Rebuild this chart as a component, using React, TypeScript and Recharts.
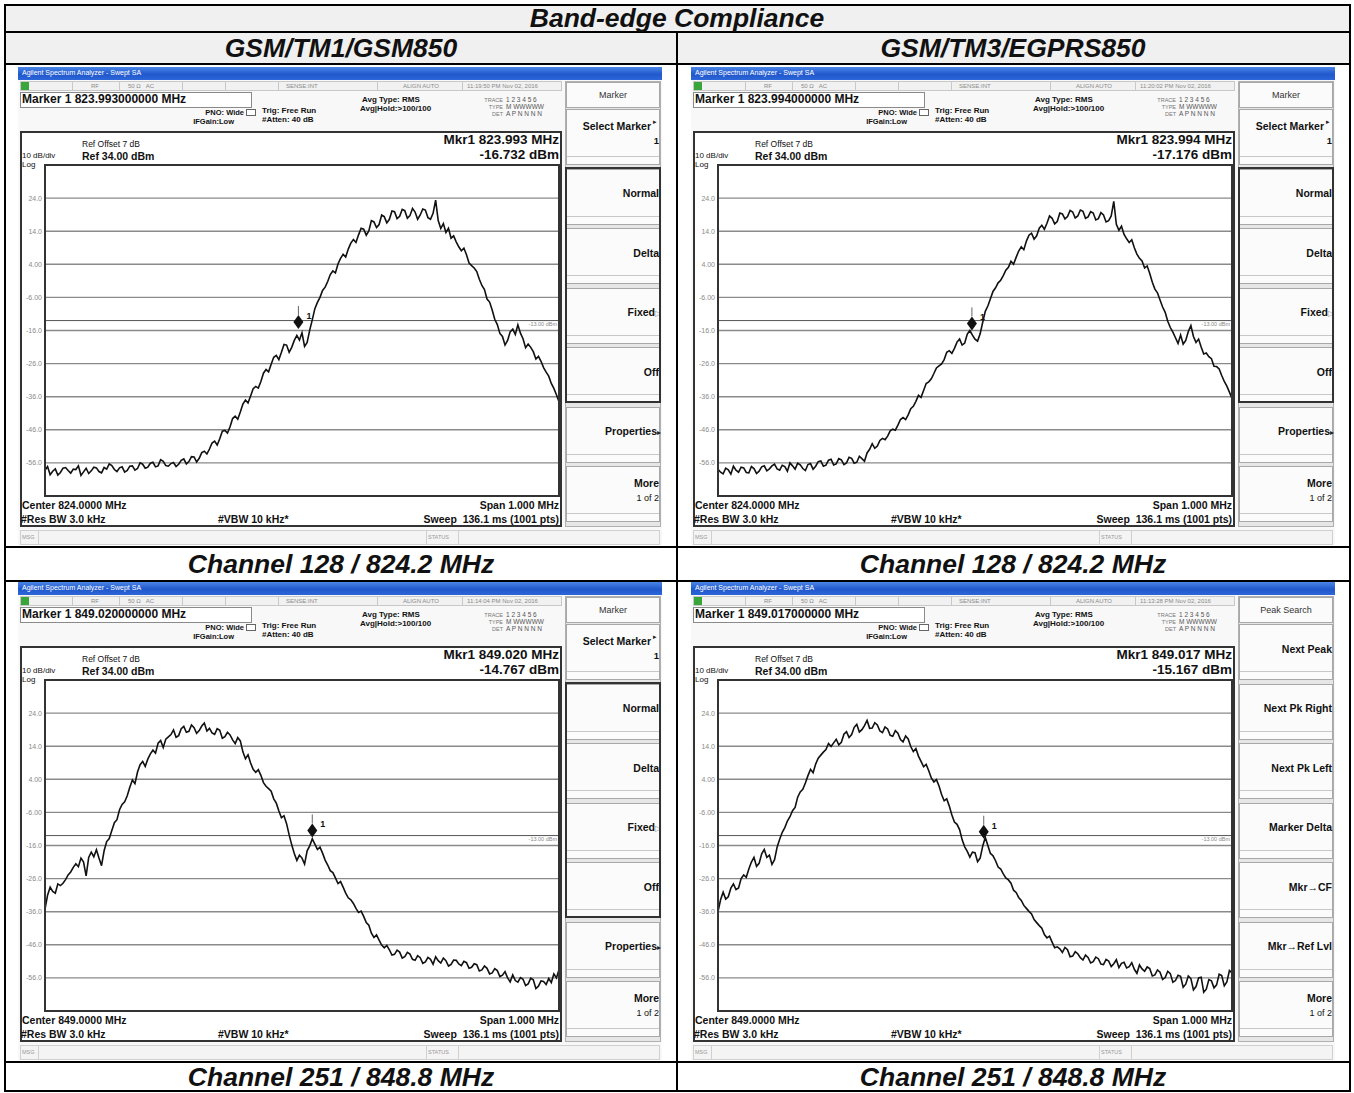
import React from "react";
import {
  CartesianGrid,
  Line,
  LineChart,
  ReferenceDot,
  ReferenceLine,
  XAxis,
  YAxis,
} from "recharts";

// trace levels in dBm, one point every 5 kHz across the 1 MHz span (201 pts)
const tm1Ch128 = [
  -58.2, -57.1, -59.6, -58.5, -57.8, -59.7, -58.9, -57.6, -57.4, -58.3, -59.1, -57.9, -58.0, -56.9, -59.8, -58.7, -57.6, -59.2, -58.4, -57.3,
  -57.5, -58.6, -59.0, -57.4, -57.9, -56.3, -56.8, -58.0, -58.6, -57.5, -57.2, -58.8, -58.3, -57.0, -56.9, -58.2, -57.7, -56.0, -56.4, -57.6,
  -57.3, -56.1, -55.8, -57.2, -56.9, -55.0, -55.5, -56.8, -57.0, -56.2, -55.9, -57.1, -56.4, -55.2, -54.8, -56.3, -55.6, -54.1, -54.2, -55.7,
  -54.6, -52.9, -52.5, -53.3, -51.8, -50.0, -49.4, -50.6, -48.7, -46.4, -46.2, -47.0, -45.1, -42.6, -41.9, -42.8, -40.6, -38.2, -37.0, -37.9,
  -35.8, -33.6, -32.9, -33.4, -31.4, -28.9, -27.8, -28.5, -26.2, -24.1, -23.5, -24.8, -22.6, -20.2, -20.4, -22.6, -21.1, -19.0, -17.5, -18.9,
  -16.7, -20.8, -19.6, -15.9, -12.8, -9.4, -7.5, -6.0, -3.9, -2.9, -1.2, 0.9, 2.0, 1.4, 4.1, 5.8, 7.0, 6.2, 8.6, 10.4,
  11.5, 10.6, 12.9, 14.9, 14.6, 12.8, 14.1, 17.2, 16.8, 15.1, 16.0, 18.9, 18.4, 16.5, 17.6, 20.1, 19.9, 17.8, 18.5, 20.6,
  20.2, 17.9, 18.7, 20.9, 19.8, 17.6, 18.9, 20.7, 20.4, 18.1, 17.6, 19.4, 23.4, 17.2, 14.8, 16.3, 13.6, 14.9, 11.9, 12.6,
  10.8, 9.3, 8.1, 8.9, 6.9, 4.4, 3.6, 2.9, 1.8, -0.5, -2.4, -3.6, -6.5, -7.4, -9.8, -12.6, -14.2, -16.9, -17.8, -20.4,
  -19.0, -16.4, -15.6, -17.2, -14.3, -16.8, -18.5, -21.2, -20.1, -21.1, -22.4, -24.6, -23.8, -25.3, -27.2, -28.6, -29.8, -32.0, -33.5, -35.4, -37.5,
];

const tm3Ch128 = [
  -57.9, -58.8, -59.3, -57.6, -58.1, -59.4, -57.0, -58.2, -58.8, -57.3, -57.5, -58.9, -59.0, -57.1, -57.7, -59.2, -58.5, -57.2, -56.9, -58.4,
  -57.8, -56.9, -56.4, -57.8, -58.2, -56.7, -57.1, -58.5, -56.0, -56.9, -57.9, -56.1, -56.6, -57.7, -58.3, -56.5, -56.2, -57.9, -57.0, -55.6,
  -55.4, -57.0, -56.7, -55.2, -54.9, -56.6, -56.3, -54.7, -55.1, -56.5, -56.0, -54.3, -54.6, -56.1, -55.8, -54.0, -54.7, -55.5, -53.0, -51.9,
  -50.2, -51.6, -50.9, -49.2, -48.6, -49.0, -47.9, -46.3, -45.8, -46.1, -44.6, -42.9, -42.3, -42.9, -41.5, -39.6, -38.9, -37.4, -35.6, -36.2,
  -34.1, -32.0, -31.5, -30.6, -29.0, -27.3, -26.7, -26.1, -24.8, -22.6, -22.1, -22.9, -21.4, -19.5, -18.6, -20.4, -19.8, -17.1, -16.0, -17.4,
  -18.6, -19.2, -17.0, -13.5, -10.2, -8.6, -6.4, -4.2, -3.1, -1.6, -0.8, 0.6, 2.2, 3.1, 4.9, 4.0, 6.1, 8.0, 9.3, 8.4,
  11.0, 12.8, 13.4, 11.6, 12.6, 14.9, 15.8, 14.6, 16.4, 18.6, 17.9, 16.2, 16.9, 19.5, 19.2, 17.7, 18.4, 20.3, 19.8, 18.0,
  18.6, 20.4, 20.0, 17.9, 18.3, 19.9, 19.5, 17.4, 17.8, 19.6, 18.9, 16.8, 17.2, 18.6, 23.0, 16.1, 14.3, 15.5, 13.0, 11.7,
  10.6, 11.4, 9.0, 7.1, 5.8, 5.0, 2.9, 3.5, 1.2, -1.4, -3.5, -4.6, -6.8, -8.9, -10.5, -13.2, -15.1, -16.5, -18.2, -19.9,
  -17.4, -20.1, -19.0, -16.3, -14.5, -17.8, -19.6, -18.6, -21.0, -23.1, -22.8, -23.9, -24.5, -26.8, -26.9, -27.6, -29.6, -31.4, -32.8, -34.6, -36.5,
];

const tm1Ch251 = [
  -35.2, -31.0, -28.6, -29.9, -30.4, -27.6, -28.1, -27.4, -26.3, -24.9, -24.0, -22.6, -21.5, -22.4, -19.8, -21.0, -25.2, -19.6, -18.0, -19.4,
  -17.3, -19.8, -22.1, -17.6, -14.8, -13.9, -11.5, -9.1, -8.2, -5.2, -3.6, -2.8, -1.0, 1.6, 3.8, 2.7, 6.2, 8.4, 9.4, 7.9,
  10.1, 11.7, 12.8, 11.9, 14.9, 15.7, 13.6, 16.1, 16.8, 17.5, 18.9, 16.7, 17.2, 19.3, 20.0, 18.2, 18.5, 20.4, 19.6, 17.9,
  18.7, 20.1, 21.0, 18.6, 19.4, 18.0, 17.6, 19.3, 18.8, 16.4, 16.9, 18.2, 17.4, 15.9, 14.8, 16.6, 15.6, 12.3, 10.2, 11.4,
  8.9, 7.0, 6.1, 6.9, 5.2, 3.0, 1.9, 1.2, 0.4, -1.9, -3.2, -5.6, -7.6, -7.0, -9.4, -12.8, -15.8, -18.4, -20.5, -18.9,
  -19.8, -21.6, -17.6, -16.1, -14.0, -15.6, -17.2, -16.5, -18.3, -20.4, -21.9, -23.6, -24.2, -25.8, -27.5, -26.9, -28.6, -30.4, -31.8, -32.4,
  -33.5, -35.0, -36.2, -35.8, -37.4, -39.3, -40.1, -42.5, -43.8, -43.0, -44.6, -46.1, -46.9, -46.2, -47.5, -49.1, -48.9, -47.6, -48.2, -50.0,
  -49.6, -48.3, -48.8, -50.4, -50.7, -49.3, -49.9, -51.6, -51.2, -49.8, -50.4, -51.9, -49.6, -50.8, -51.5, -50.0, -50.8, -52.4, -51.9, -50.6,
  -50.7, -51.8, -52.3, -51.0, -51.4, -53.1, -52.8, -51.7, -52.0, -53.9, -53.6, -52.4, -53.1, -54.8, -54.5, -53.2, -53.8, -55.6, -55.2, -54.1,
  -56.0, -57.2, -55.1, -56.8, -57.3, -55.9, -56.4, -58.3, -57.8, -56.1, -56.6, -59.2, -58.5, -56.9, -57.1, -58.0, -56.2, -57.4, -54.8, -56.0, -53.5,
];

const tm3Ch251 = [
  -36.0, -32.4, -30.1, -32.2, -31.5, -28.9, -27.6, -29.3, -28.8, -26.0, -24.9, -25.6, -23.1, -21.0, -19.6, -22.3, -21.4, -18.5, -17.2, -19.6,
  -18.9, -21.7, -20.3, -16.5, -14.1, -12.0, -10.6, -8.6, -7.3, -5.5, -4.5, -1.4, 0.2, 1.0, 2.9, 5.1, 7.0, 6.0, 8.6, 10.4,
  11.3, 12.2, 13.0, 14.8, 13.9, 15.0, 16.1, 14.4, 15.2, 17.6, 18.4, 16.6, 17.5, 19.7, 20.6, 18.3, 19.0, 20.2, 21.8, 19.4,
  19.5, 21.1, 20.4, 18.6, 18.1, 19.8, 19.2, 17.3, 17.0, 18.7, 17.9, 16.0, 15.3, 17.1, 16.2, 13.9, 12.4, 13.3, 11.0, 9.4,
  7.8, 8.5, 6.6, 4.4, 3.2, 3.9, 2.0, -0.6, -2.5, -1.9, -4.1, -6.8, -8.9, -9.6, -11.2, -14.3, -16.4, -17.8, -19.5, -18.0,
  -18.2, -20.9, -19.8, -16.2, -13.5, -16.0, -18.4, -19.1, -20.6, -22.5, -23.1, -24.6, -25.8, -26.4, -27.4, -29.5, -30.2, -31.7, -32.6, -34.1,
  -35.0, -35.9, -36.7, -38.4, -39.3, -40.2, -41.0, -42.9, -43.9, -43.4, -45.2, -46.9, -46.6, -47.2, -48.3, -46.8, -47.5, -49.6, -49.4, -48.1,
  -48.7, -49.9, -50.6, -49.1, -49.8, -51.5, -51.1, -49.7, -50.2, -51.8, -52.0, -50.4, -50.9, -52.6, -51.7, -50.5, -52.9, -51.6, -51.3, -53.0,
  -52.6, -51.4, -53.4, -54.6, -52.1, -53.3, -54.0, -52.7, -53.2, -55.4, -55.1, -53.6, -54.3, -56.5, -55.9, -54.0, -54.7, -57.3, -56.8, -55.2,
  -55.5, -58.8, -57.9, -55.4, -56.2, -59.6, -58.6, -56.0, -55.8, -60.3, -59.4, -56.5, -56.9, -59.0, -58.1, -54.9, -55.3, -58.4, -57.2, -53.8, -54.5,
];

const yTicks = [-66, -56, -46, -36, -26, -16, -6, 4, 14, 24, 34];
const yTickLabels = ["", "-56.0", "-46.0", "-36.0", "-26.0", "-16.0", "-6.00", "4.00", "14.0", "24.0", ""];
const divOffsets = [-0.5, -0.4, -0.3, -0.2, -0.1, 0, 0.1, 0.2, 0.3, 0.4, 0.5];
const limitDbm = -13;

const markerKeys = [
  { label: "Select Marker", sub: "1", mark: "▸" },
  { label: "Normal" },
  { label: "Delta" },
  { label: "Fixed", mark: "▷" },
  { label: "Off" },
  { label: "Properties", mark: "▸" },
  { label: "More", sub: "1 of 2" },
];
const peakKeys = [
  { label: "Next Peak" },
  { label: "Next Pk Right" },
  { label: "Next Pk Left" },
  { label: "Marker Delta" },
  { label: "Mkr→CF" },
  { label: "Mkr→Ref Lvl" },
  { label: "More", sub: "1 of 2" },
];

const panels = [
  { ox: 18, oy: 67, center: 824, levels: tm1Ch128, mkF: 823.993, mkL: -16.732, time: "11:19:50 PM Nov 02, 2016", menu: "Marker", keys: markerKeys },
  { ox: 691, oy: 67, center: 824, levels: tm3Ch128, mkF: 823.994, mkL: -17.176, time: "11:20:02 PM Nov 02, 2016", menu: "Marker", keys: markerKeys },
  { ox: 18, oy: 582, center: 849, levels: tm1Ch251, mkF: 849.02, mkL: -14.767, time: "11:14:04 PM Nov 02, 2016", menu: "Marker", keys: markerKeys },
  { ox: 691, oy: 582, center: 849, levels: tm3Ch251, mkF: 849.017, mkL: -15.167, time: "11:13:28 PM Nov 02, 2016", menu: "Peak Search", keys: peakKeys },
];

const FONT = '"Liberation Sans", Arial, sans-serif';

function T({ x, y, s, b, c = "#111", a = "l", it, children }: any) {
  const w = 420;
  const h = s * 1.15;
  const left = a === "l" ? x : a === "r" ? x - w : x - w / 2;
  return (
    <div
      style={{
        position: "absolute",
        left,
        top: y - h / 2,
        width: w,
        height: h,
        lineHeight: `${h}px`,
        fontSize: s,
        fontWeight: b ? 700 : 400,
        fontStyle: it ? "italic" : "normal",
        color: c,
        textAlign: a === "l" ? "left" : a === "r" ? "right" : "center",
        whiteSpace: "nowrap",
        fontFamily: FONT,
      }}
    >
      {children}
    </div>
  );
}

function Box({ x, y, w, h, bg, border }: any) {
  return (
    <div
      style={{
        position: "absolute",
        left: x,
        top: y,
        width: w,
        height: h,
        background: bg,
        border,
        boxSizing: "border-box",
      }}
    />
  );
}

const MarkerShape = (props: any) => {
  const { cx, cy } = props;
  return (
    <g>
      <line x1={cx} x2={cx} y1={cy - 27} y2={cy - 18} stroke="#666" strokeWidth={1} />
      <polygon
        points={`${cx},${cy - 18} ${cx + 5},${cy - 11} ${cx},${cy - 4} ${cx - 5},${cy - 11}`}
        fill="#111"
      />
      <text x={cx + 8} y={cy - 14} fontSize={9} fontWeight="bold" fill="#111" fontFamily={FONT}>
        1
      </text>
    </g>
  );
};

function Screen({ p }: any) {
  const lo = p.center - 0.5;
  const hi = p.center + 0.5;
  const data = p.levels.map((dbm: number, i: number) => ({ f: +(lo + i * 0.005).toFixed(4), dbm }));
  const xTicks = divOffsets.map((d) => +(p.center + d).toFixed(1));
  const statusSeps = [54, 101, 164, 207, 260, 359, 444];
  const keyTop = (k: number) => 42 + 59.5 * k;

  return (
    <div style={{ position: "absolute", left: p.ox, top: p.oy, width: 644, height: 478, background: "#f8f8f8" }}>
      {/* title bar */}
      <div
        style={{
          position: "absolute",
          left: 0,
          top: 0,
          width: 644,
          height: 13,
          background: "linear-gradient(#4a86e8, #2158cc 55%, #2c66d8)",
        }}
      />
      <T x={4} y={6.5} s={7} c="#fff">Agilent Spectrum Analyzer - Swept SA</T>

      {/* status row */}
      <Box x={2} y={14} w={542} h={10} bg="#f1f1f1" border="1px solid #c8c8c8" />
      <Box x={3} y={15} w={8} h={8} bg="#3aa53a" />
      {statusSeps.map((s) => (
        <Box key={s} x={s} y={14} w={1} h={10} bg="#c8c8c8" />
      ))}
      <T x={73} y={19} s={6} c="#8a8a8a">RF</T>
      <T x={110} y={19} s={6} c="#8a8a8a">50 Ω&nbsp;&nbsp;&nbsp;AC</T>
      <T x={268} y={19} s={6} c="#8a8a8a">SENSE:INT</T>
      <T x={385} y={19} s={6} c="#8a8a8a">ALIGN AUTO</T>
      <T x={449} y={19} s={6} c="#8a8a8a">{p.time}</T>

      {/* marker line */}
      <Box x={2} y={25} w={232} h={16} bg="#fff" border="1px solid #8a8a8a" />
      <T x={4} y={33} s={12} b>{`Marker 1 ${p.mkF.toFixed(9)} MHz`}</T>
      <T x={226} y={46} s={7.5} b a="r">PNO: Wide</T>
      <Box x={228} y={42} w={10} h={7} bg="#fff" border="1px solid #666" />
      <T x={216} y={55} s={7.5} b a="r">IFGain:Low</T>
      <T x={244} y={44} s={8} b>Trig: Free Run</T>
      <T x={244} y={53} s={8} b>#Atten: 40 dB</T>
      <T x={344} y={33} s={8} b>Avg Type: RMS</T>
      <T x={342} y={42} s={8} b>Avg|Hold:&gt;100/100</T>
      <T x={485} y={33} s={5.5} c="#777" a="r">TRACE</T>
      <T x={488} y={33} s={6.5} c="#555">1 2 3 4 5 6</T>
      <T x={485} y={40} s={5.5} c="#777" a="r">TYPE</T>
      <T x={488} y={40} s={6.5} c="#555">M WWWWW</T>
      <T x={485} y={47} s={5.5} c="#777" a="r">DET</T>
      <T x={488} y={47} s={6.5} c="#555">A P N N N N</T>

      {/* measurement frame */}
      <Box x={2} y={64} w={542} h={396} bg="#fff" border="2px solid #333" />
      <T x={64} y={78} s={8.5}>Ref Offset 7 dB</T>
      <T x={64} y={89} s={10.5} b>Ref 34.00 dBm</T>
      <T x={4} y={88.5} s={8}>10 dB/div</T>
      <T x={4} y={97.5} s={8}>Log</T>
      <T x={541} y={73} s={13.5} b a="r">{`Mkr1 ${p.mkF.toFixed(3)} MHz`}</T>
      <T x={541} y={87.5} s={13.5} b a="r">{`${p.mkL.toFixed(3)} dBm`}</T>

      <div style={{ position: "absolute", left: 1, top: 98 }}>
        <LineChart width={540} height={331} data={data} margin={{ top: 0, right: 0, bottom: 0, left: 0 }}>
          <CartesianGrid stroke="#8a8a8a" strokeWidth={1.4} />
          <XAxis
            dataKey="f"
            type="number"
            domain={[lo, hi]}
            ticks={xTicks}
            tick={false}
            axisLine={false}
            tickLine={false}
            height={0}
            allowDataOverflow
          />
          <YAxis
            type="number"
            domain={[-66, 34]}
            ticks={yTicks}
            width={26}
            tickSize={0}
            tickMargin={3}
            axisLine={false}
            tickLine={false}
            tick={{ fontSize: 7, fill: "#8a8a8a", fontFamily: FONT }}
            tickFormatter={(v: number) => yTickLabels[yTicks.indexOf(v)] ?? ""}
            allowDataOverflow
          />
          <ReferenceLine
            y={limitDbm}
            stroke="#555"
            strokeWidth={1}
            label={{ value: "-13.00 dBm", position: "insideTopRight", fontSize: 5.5, fill: "#888", offset: 2 }}
          />
          <Line
            dataKey="dbm"
            type="linear"
            stroke="#111"
            strokeWidth={1.6}
            dot={false}
            isAnimationActive={false}
          />
          <ReferenceDot x={p.mkF} y={p.mkL} shape={MarkerShape} ifOverflow="visible" />
        </LineChart>
      </div>
      <Box x={26} y={97} w={516} h={333} border="2px solid #333" />

      <T x={4} y={438} s={10.5} b>{`Center ${p.center.toFixed(4)} MHz`}</T>
      <T x={3} y={452} s={10.5} b>#Res BW 3.0 kHz</T>
      <T x={200} y={452} s={10.5} b>#VBW 10 kHz*</T>
      <T x={541} y={438} s={10.5} b a="r">Span 1.000 MHz</T>
      <T x={541} y={452} s={10.5} b a="r">Sweep&nbsp;&nbsp;136.1 ms (1001 pts)</T>

      {/* message row */}
      <Box x={2} y={463} w={640} h={15} bg="#f4f4f4" border="1px solid #d0d0d0" />
      <Box x={20} y={463} w={1} h={15} bg="#d0d0d0" />
      <Box x={408} y={463} w={1} h={15} bg="#d0d0d0" />
      <Box x={440} y={463} w={1} h={15} bg="#d0d0d0" />
      <T x={4} y={470} s={5.5} c="#999">MSG</T>
      <T x={410} y={470} s={5.5} c="#999">STATUS</T>

      {/* softkeys */}
      <Box x={547} y={14} w={96} h={446} bg="#e6e6e6" border="1px solid #b0b0b0" />
      <Box x={548} y={15} w={94} h={26} bg="#fbfbfb" border="1px solid #a8a8a8" />
      <T x={595} y={28} s={9} c="#333" a="c">{p.menu}</T>
      {p.keys.map((k: any, i: number) => {
        const top = keyTop(i);
        return (
          <React.Fragment key={k.label}>
            <Box x={548} y={top} w={94} h={56} bg="#fbfbfb" border="1px solid #a8a8a8" />
            <Box x={549} y={top + 47} w={92} h={1} bg="#c8c8c8" />
            {k.sub ? (
              <>
                <T x={k.label === "Select Marker" ? 633 : 641} y={top + 17} s={10.5} b a="r">
                  {k.label}
                </T>
                {k.mark ? <T x={635} y={top + 13} s={7} c="#222">{k.mark}</T> : null}
                <T x={641} y={top + 32} s={k.label === "More" ? 9 : 9.5} b={k.label !== "More"} a="r">
                  {k.sub}
                </T>
              </>
            ) : (
              <T x={k.mark ? 643 : 641} y={top + 25} s={10.5} b a="r">
                {k.label}
                {k.mark ? (
                  <span style={{ fontSize: 8, fontWeight: 400, color: k.mark === "▷" ? "#999" : "#222" }}>{k.mark}</span>
                ) : null}
              </T>
            )}
          </React.Fragment>
        );
      })}
      {p.menu === "Marker" ? <Box x={547} y={100} w={96} h={236} border="2px solid #333" /> : null}
    </div>
  );
}

function HLine({ x, y, w }: any) {
  return <div style={{ position: "absolute", left: x, top: y - 1, width: w, height: 2, background: "#000" }} />;
}
function VLine({ x, y, h }: any) {
  return <div style={{ position: "absolute", left: x - 1, top: y, width: 2, height: h, background: "#000" }} />;
}

export default function App() {
  return (
    <div
      style={{
        position: "absolute",
        left: 0,
        top: 0,
        width: 1354,
        height: 1093,
        background: "#fff",
        fontFamily: FONT,
        overflow: "hidden",
      }}
    >
      <Box x={5} y={5} w={1345} h={59} bg="#f0f0f0" />
      {panels.map((p, i) => (
        <Screen key={i} p={p} />
      ))}

      <HLine x={4} y={5} w={1347} />
      <HLine x={4} y={32} w={1347} />
      <HLine x={4} y={64} w={1347} />
      <HLine x={4} y={547} w={1347} />
      <HLine x={4} y={581} w={1347} />
      <HLine x={4} y={1062} w={1347} />
      <HLine x={4} y={1091} w={1347} />
      <VLine x={5} y={4} h={1088} />
      <VLine x={1350} y={4} h={1088} />
      <VLine x={677} y={32} h={1060} />

      <T x={677} y={18.5} s={26.5} b it a="c">Band-edge Compliance</T>
      <T x={341} y={48.5} s={26.5} b it a="c">GSM/TM1/GSM850</T>
      <T x={1013} y={48.5} s={26.5} b it a="c">GSM/TM3/EGPRS850</T>
      <T x={341} y={564.5} s={26.5} b it a="c">Channel 128 / 824.2 MHz</T>
      <T x={1013} y={564.5} s={26.5} b it a="c">Channel 128 / 824.2 MHz</T>
      <T x={341} y={1077.5} s={26.5} b it a="c">Channel 251 / 848.8 MHz</T>
      <T x={1013} y={1077.5} s={26.5} b it a="c">Channel 251 / 848.8 MHz</T>
    </div>
  );
}
